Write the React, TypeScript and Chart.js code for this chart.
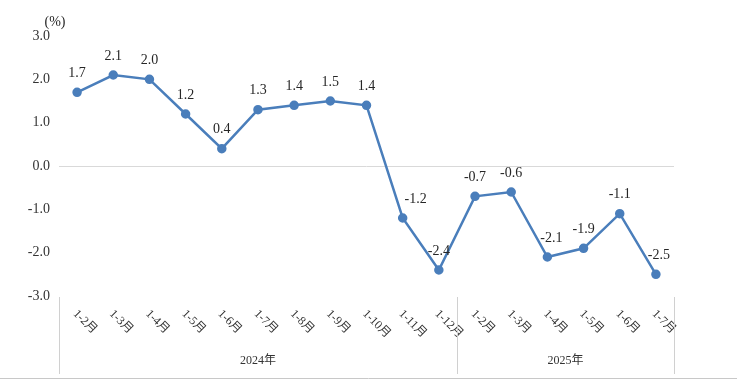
import React, { useEffect, useRef } from 'react';
import { Chart, registerables } from 'chart.js';

Chart.register(...registerables);

const categories = ['1-2月', '1-3月', '1-4月', '1-5月', '1-6月', '1-7月', '1-8月', '1-9月', '1-10月', '1-11月', '1-12月', '1-2月', '1-3月', '1-4月', '1-5月', '1-6月', '1-7月'];
const values = [1.7, 2.1, 2.0, 1.2, 0.4, 1.3, 1.4, 1.5, 1.4, -1.2, -2.4, -0.7, -0.6, -2.1, -1.9, -1.1, -2.5];
const yearLabels = ['2024年', '2025年'];
const yearCounts = [11, 6];
const yMin = -3;
const yMax = 3;
const yStep = 1;
const unitLabel = '(%)';

// label nudges (styling only)
const labelShiftX: Record<number, number> = { 9: 13, 13: 4, 16: 3 };

const LINE = '#4a7ebb';
const TEXT = '#262626';
const SERIF = '"Liberation Serif", "Times New Roman", "Noto Sans CJK SC", serif';

const overlay = {
  id: 'overlay',
  afterDatasetsDraw(chart: any) {
    const ctx = chart.ctx;
    const xs = chart.scales.x;
    const area = chart.chartArea;
    const meta = chart.getDatasetMeta(0);
    ctx.save();
    // data labels
    ctx.fillStyle = TEXT;
    ctx.font = '14px ' + SERIF;
    ctx.textAlign = 'center';
    ctx.textBaseline = 'middle';
    meta.data.forEach((pt: any, i: number) => {
      const dx = labelShiftX[i] || 0;
      ctx.fillText(values[i].toFixed(1), pt.x + dx, pt.y - 19);
    });
    // unit label
    ctx.fillText(unitLabel, 55, 22);
    // x tick labels rotated
    ctx.font = '12px ' + SERIF;
    ctx.textAlign = 'left';
    ctx.fillStyle = '#333';
    categories.forEach((c, i) => {
      const x = xs.getPixelForValue(i);
      ctx.save();
      ctx.translate(x - 2, area.bottom + 16);
      ctx.rotate(Math.PI / 4);
      ctx.fillText(c, 0, 0);
      ctx.restore();
    });
    // separators and year labels
    const half = (xs.getPixelForValue(1) - xs.getPixelForValue(0)) / 2;
    ctx.strokeStyle = '#d0d0d0';
    ctx.lineWidth = 1;
    let start = 0;
    const bounds: number[] = [xs.getPixelForValue(0) - half];
    yearCounts.forEach((n) => {
      start += n;
      bounds.push(xs.getPixelForValue(start - 1) + half);
    });
    bounds.forEach((b) => {
      const bx = Math.round(b) + 0.5;
      ctx.beginPath();
      ctx.moveTo(bx, area.bottom + 1);
      ctx.lineTo(bx, 374);
      ctx.stroke();
    });
    ctx.font = '12px ' + SERIF;
    ctx.textAlign = 'center';
    ctx.fillStyle = '#333';
    yearLabels.forEach((y, i) => {
      ctx.fillText(y, (bounds[i] + bounds[i + 1]) / 2, 361);
    });
    // bottom line
    ctx.strokeStyle = '#c8c8c8';
    ctx.beginPath();
    ctx.moveTo(0, 378.5);
    ctx.lineTo(737, 378.5);
    ctx.stroke();
    ctx.restore();
  },
};

export default function App() {
  const ref = useRef<HTMLCanvasElement>(null);
  useEffect(() => {
    const chart = new Chart(ref.current!, {
      type: 'line',
      data: {
        labels: categories,
        datasets: [
          {
            data: values,
            borderColor: LINE,
            backgroundColor: LINE,
            borderWidth: 2.5,
            pointRadius: 3.5,
            pointBackgroundColor: LINE,
            pointBorderColor: LINE,
            tension: 0,
          },
        ],
      },
      options: {
        responsive: false,
        animation: false,
        layout: { padding: { top: 36, right: 63, bottom: 0, left: 0 } },
        plugins: { legend: { display: false }, tooltip: { enabled: false } },
        scales: {
          x: {
            type: 'category',
            offset: true,
            grid: { display: false },
            border: { display: false },
            ticks: { display: false },
            afterFit: (s: any) => {
              s.height = 85;
            },
          },
          y: {
            min: yMin,
            max: yMax,
            ticks: {
              stepSize: yStep,
              padding: 9,
              color: '#333',
              font: { family: SERIF, size: 14 },
              callback: (v: any) => Number(v).toFixed(1),
            },
            grid: {
              drawTicks: false,
              color: (c: any) => (c.tick && c.tick.value === 0 ? '#d9d9d9' : 'rgba(0,0,0,0)'),
              lineWidth: 1,
            },
            border: { display: false },
            afterFit: (s: any) => {
              s.width = 59;
            },
          },
        },
      },
      plugins: [overlay],
    });
    return () => chart.destroy();
  }, []);
  return (
    <div style={{ position: 'absolute', left: 0, top: 0, width: 737, height: 381, background: '#fff' }}>
      <canvas ref={ref} width={737} height={381} />
    </div>
  );
}
